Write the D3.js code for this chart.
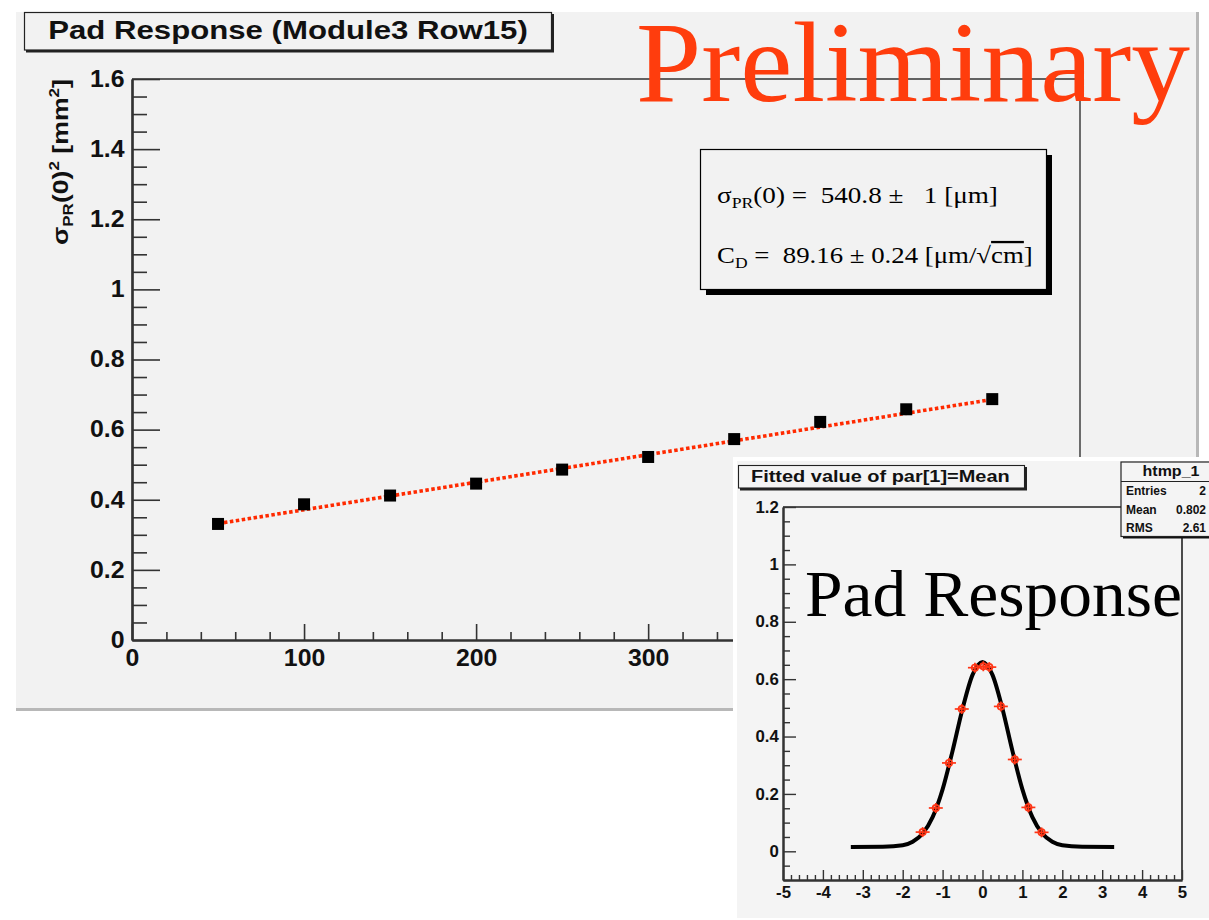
<!DOCTYPE html>
<html><head><meta charset="utf-8">
<script src="https://cdn.jsdelivr.net/npm/d3@7"></script>
<style>
body{margin:0;background:#fff;}
svg{display:block;}
text{font-family:"Liberation Sans",Arial,sans-serif;}
.serif{font-family:"Liberation Serif","Times New Roman",serif;}
</style>
</head><body>
<svg id="c" width="1209" height="920"></svg>
<script>
// ---- main chart data ----
const mainX = [50,100,150,200,250,300,350,400,450,500];
const mainY = [0.331,0.387,0.412,0.446,0.486,0.522,0.573,0.622,0.658,0.687];
const fitX = [50,500];
const fitY = [0.332,0.686];
const mainYTicks = [0,0.2,0.4,0.6,0.8,1,1.2,1.4,1.6];
const mainYTickLabels = ["0","0.2","0.4","0.6","0.8","1","1.2","1.4","1.6"];
const mainXTicks = [0,100,200,300,400,500];
const mainXTickLabels = ["0","100","200","300","400","500"];
// ---- inset data ----
const prX = [-1.50,-1.17,-0.84,-0.52,-0.19,0.02,0.17,0.46,0.81,1.15,1.48];
const prY = [0.067,0.151,0.308,0.496,0.640,0.645,0.642,0.505,0.320,0.153,0.066];
const prXErr = [0.15,0.15,0.15,0.15,0.15,0.15,0.15,0.15,0.15,0.15,0.15];
const curveX = [-3.3,-2.5,-2,-1.75,-1.5,-1.25,-1,-0.75,-0.5,-0.25,0,0.25,0.5,0.75,1,1.25,1.5,1.75,2,2.5,3.3];
const curveY = [0.015,0.016,0.021,0.033,0.062,0.119,0.216,0.350,0.497,0.615,0.660,0.615,0.497,0.350,0.216,0.119,0.062,0.033,0.021,0.016,0.015];
const insetXTicks = [-5,-4,-3,-2,-1,0,1,2,3,4,5];
const insetXTickLabels = ["-5","-4","-3","-2","-1","0","1","2","3","4","5"];
const insetYTicks = [0,0.2,0.4,0.6,0.8,1,1.2];
const insetYTickLabels = ["0","0.2","0.4","0.6","0.8","1","1.2"];
const statsNames = ["Entries","Mean","RMS"];
const statsValues = ["2","0.802","2.61"];

const svg = d3.select("#c");
svg.append("rect").attr("width",1209).attr("height",920).attr("fill","#fff");

function placeText(parent, x, y, str, o){
  const g = parent.append("g").attr("transform",`translate(${x},${y})${o.rotate?` rotate(${o.rotate})`:""}`);
  const t = g.append("text").attr("x",0).attr("y",0)
    .attr("text-anchor",o.anchor||"start")
    .attr("font-size",o.size).attr("font-weight",o.weight||"normal")
    .attr("fill",o.fill||"#000");
  if(o.cls) t.attr("class",o.cls);
  if(str!==null) t.text(str);
  return t;
}
function fit(t, w){
  const bw = t.node().getComputedTextLength();
  if(bw>0) t.attr("transform",`scale(${w/bw},1)`);
}

// ---- main panel ----
svg.append("rect").attr("x",16).attr("y",12).attr("width",1181).attr("height",697).attr("fill","#f2f2f2");
svg.append("line").attr("x1",1197.5).attr("y1",12).attr("x2",1197.5).attr("y2",710).attr("stroke","#b8b8b8").attr("stroke-width",3);
svg.append("line").attr("x1",16).attr("y1",709.5).attr("x2",1199).attr("y2",709.5).attr("stroke","#b8b8b8").attr("stroke-width",3);

const x = d3.scaleLinear().domain([0,551]).range([132,1080]);
const y = d3.scaleLinear().domain([0,1.6]).range([640,79]);

svg.append("path").attr("d",`M${x(0)},${y(1.6)}H${x(551)}V${y(0)}`).attr("fill","none").attr("stroke","#333").attr("stroke-width",1.4);

const yMinor = d3.range(0,1.6001,0.05).filter(v=>Math.abs(v/0.2-Math.round(v/0.2))>1e-6);
const xMinor = d3.range(0,551,20).filter(v=>v%100!==0);

function styleAxis(g, fs, stretch){
  g.select(".domain").attr("stroke","#333").attr("stroke-width",2.2);
  g.selectAll(".tick line").attr("stroke","#333").attr("stroke-width",1.6);
  g.selectAll(".tick text").attr("font-size",fs).attr("font-weight","bold").attr("fill","#111")
    .attr("font-family","'Liberation Sans',Arial,sans-serif");
  if(stretch) g.selectAll(".tick text").attr("transform",`scale(${stretch},1)`);
}

const gYm = svg.append("g").attr("transform",`translate(${x(0)},0)`)
  .call(d3.axisLeft(y).tickValues(yMinor).tickSize(-15).tickSizeOuter(0).tickFormat(""));
styleAxis(gYm,23);
const gY = svg.append("g").attr("transform",`translate(${x(0)},0)`)
  .call(d3.axisLeft(y).tickValues(mainYTicks).tickSize(-28).tickSizeOuter(0).tickPadding(7).tickFormat((d,i)=>mainYTickLabels[i]));
styleAxis(gY,23,1.08);

const gXm = svg.append("g").attr("transform",`translate(0,${y(0)})`)
  .call(d3.axisBottom(x).tickValues(xMinor).tickSize(-8).tickSizeOuter(0).tickFormat(""));
styleAxis(gXm,23);
const gX = svg.append("g").attr("transform",`translate(0,${y(0)})`)
  .call(d3.axisBottom(x).tickValues(mainXTicks).tickSize(-16).tickSizeOuter(0).tickPadding(10).tickFormat((d,i)=>mainXTickLabels[i]));
styleAxis(gX,23,1.08);

// fit line
svg.append("path").datum(fitX.map((v,i)=>[v,fitY[i]]))
  .attr("d",d3.line().x(d=>x(d[0])).y(d=>y(d[1])))
  .attr("fill","none").attr("stroke","#ff2a00").attr("stroke-width",3.6).attr("stroke-dasharray","3.5,2.5");
// points
svg.append("g").selectAll("rect").data(mainX.map((v,i)=>[v,mainY[i]])).join("rect")
  .attr("x",d=>x(d[0])-6).attr("y",d=>y(d[1])-6).attr("width",12).attr("height",12).attr("fill","#000");

// y label
{
  const t = placeText(svg,68,162,null,{rotate:-90,anchor:"middle",size:22,weight:"bold",fill:"#111"});
  t.append("tspan").text("σ");
  t.append("tspan").attr("font-size",14).attr("dy",5).text("PR");
  t.append("tspan").attr("dy",-5).text("(0)");
  t.append("tspan").attr("font-size",14).attr("dy",-9).text("2");
  t.append("tspan").attr("dy",9).text(" [mm");
  t.append("tspan").attr("font-size",14).attr("dy",-9).text("2");
  t.append("tspan").attr("dy",9).text("]");
  fit(t,166);
}

// stats box
svg.append("rect").attr("x",706).attr("y",155).attr("width",346).attr("height",140).attr("fill","#000");
svg.append("rect").attr("x",700.5).attr("y",149.5).attr("width",346).attr("height",140).attr("fill","#f2f2f2").attr("stroke","#000").attr("stroke-width",1.2);
{
  const t = placeText(svg,717,203,null,{size:23,cls:"serif"});
  t.style("white-space","pre");
  t.append("tspan").text("σ");
  t.append("tspan").attr("font-size",15).attr("dy",5).text("PR");
  t.append("tspan").attr("dy",-5).text("(0) =  540.8 ±   1 [μm]");
  fit(t,281);
  const t2 = placeText(svg,717,263,null,{size:23,cls:"serif"});
  t2.style("white-space","pre");
  t2.append("tspan").text("C");
  t2.append("tspan").attr("font-size",15).attr("dy",5).text("D");
  t2.append("tspan").attr("dy",-5).text(" =  89.16 ± 0.24 [μm/√");
  t2.append("tspan").style("text-decoration","overline").text("cm");
  t2.append("tspan").text("]");
  fit(t2,316);
}

// title box
svg.append("rect").attr("x",26).attr("y",14).attr("width",528).attr("height",38.5).attr("fill","#222");
svg.append("rect").attr("x",24.5).attr("y",12.5).attr("width",527).attr("height",37.5).attr("fill","#f2f2f2").attr("stroke","#222").attr("stroke-width",1.2);
{
  const t = placeText(svg,288,39,"Pad Response (Module3 Row15)",{anchor:"middle",size:26,weight:"bold",fill:"#111"});
  fit(t,480);
}

// ---- inset ----
svg.append("rect").attr("x",733).attr("y",457).attr("width",476).attr("height",463).attr("fill","#fff");
svg.append("rect").attr("x",737).attr("y",461).attr("width",472).attr("height",457).attr("fill","#f4f4f4");

const ix = d3.scaleLinear().domain([-5,5]).range([783,1182]);
const iy = d3.scaleLinear().domain([-0.1,1.2]).range([880,507]);

svg.append("path").attr("d",`M${ix(-5)},${iy(1.2)}H${ix(5)}V${iy(-0.1)}`).attr("fill","none").attr("stroke","#222").attr("stroke-width",1.6);

const iyMinor = d3.range(-0.1,1.2001,0.05).filter(v=>Math.abs(v/0.2-Math.round(v/0.2))>1e-6);
const ixMinor = d3.range(-5,5.0001,0.2).filter(v=>Math.abs(v-Math.round(v))>1e-6);

const giYm = svg.append("g").attr("transform",`translate(${ix(-5)},0)`)
  .call(d3.axisLeft(iy).tickValues(iyMinor).tickSize(-7).tickSizeOuter(0).tickFormat(""));
styleAxis(giYm,16);
const giY = svg.append("g").attr("transform",`translate(${ix(-5)},0)`)
  .call(d3.axisLeft(iy).tickValues(insetYTicks).tickSize(-13).tickSizeOuter(0).tickPadding(4).tickFormat((d,i)=>insetYTickLabels[i]));
styleAxis(giY,16,1.05);
const giXm = svg.append("g").attr("transform",`translate(0,${iy(-0.1)})`)
  .call(d3.axisBottom(ix).tickValues(ixMinor).tickSize(-5).tickSizeOuter(0).tickFormat(""));
styleAxis(giXm,16);
const giX = svg.append("g").attr("transform",`translate(0,${iy(-0.1)})`)
  .call(d3.axisBottom(ix).tickValues(insetXTicks).tickSize(-10).tickSizeOuter(0).tickPadding(7).tickFormat((d,i)=>insetXTickLabels[i]));
styleAxis(giX,16,1.05);
[giYm,giY,giXm,giX].forEach(g=>{g.select(".domain").attr("stroke-width",2);g.selectAll(".tick line").attr("stroke-width",1.4);});

// curve
svg.append("path").datum(curveX.map((v,i)=>[v,curveY[i]]))
  .attr("d",d3.line().curve(d3.curveMonotoneX).x(d=>ix(d[0])).y(d=>iy(d[1])))
  .attr("fill","none").attr("stroke","#000").attr("stroke-width",4).attr("stroke-linejoin","round");
// red points
const gp = svg.append("g").attr("stroke","#ff3515").attr("stroke-width",1.7).attr("fill","none");
prX.forEach((v,i)=>{
  const cx = ix(v), cy = iy(prY[i]);
  gp.append("line").attr("x1",ix(v-prXErr[i])-1).attr("x2",ix(v+prXErr[i])+1).attr("y1",cy).attr("y2",cy);
  gp.append("line").attr("x1",cx).attr("x2",cx).attr("y1",cy-5).attr("y2",cy+5);
  gp.append("circle").attr("cx",cx).attr("cy",cy).attr("r",3.2);
});

// inset title box
svg.append("rect").attr("x",740).attr("y",467).attr("width",287).attr("height",23.5).attr("fill","#222");
svg.append("rect").attr("x",738.5).attr("y",465.5).attr("width",286).attr("height",22.5).attr("fill","#f4f4f4").attr("stroke","#222").attr("stroke-width",1.1);
{
  const t = placeText(svg,751,482,"Fitted value of par[1]=Mean",{size:17,weight:"bold",fill:"#111"});
  fit(t,259);
}

// inset stats box
svg.append("rect").attr("x",1123).attr("y",464).attr("width",100).attr("height",74.5).attr("fill","#111");
svg.append("rect").attr("x",1121).attr("y",462).attr("width",100).attr("height",74.5).attr("fill","#f4f4f4").attr("stroke","#222").attr("stroke-width",1.2);
svg.append("line").attr("x1",1121).attr("x2",1221).attr("y1",481.5).attr("y2",481.5).attr("stroke","#222").attr("stroke-width",1.2);
{
  const t = placeText(svg,1171,476,"htmp_1",{anchor:"middle",size:14,weight:"bold",fill:"#111"});
  fit(t,57);
  const rowsY = [495,514,532];
  statsNames.forEach((n,i)=>{
    placeText(svg,1126,rowsY[i],n,{size:12,weight:"bold",fill:"#111"});
    placeText(svg,1206,rowsY[i],statsValues[i],{anchor:"end",size:12,weight:"bold",fill:"#111"});
  });
}

// overlay texts
{
  const t = placeText(svg,805,616,"Pad Response",{size:66,cls:"serif",fill:"#000"});
  fit(t,377);
  const p = placeText(svg,636,101,"Preliminary",{size:114,cls:"serif",fill:"#ff3d0d"});
  fit(p,554);
}
</script>
</body></html>
